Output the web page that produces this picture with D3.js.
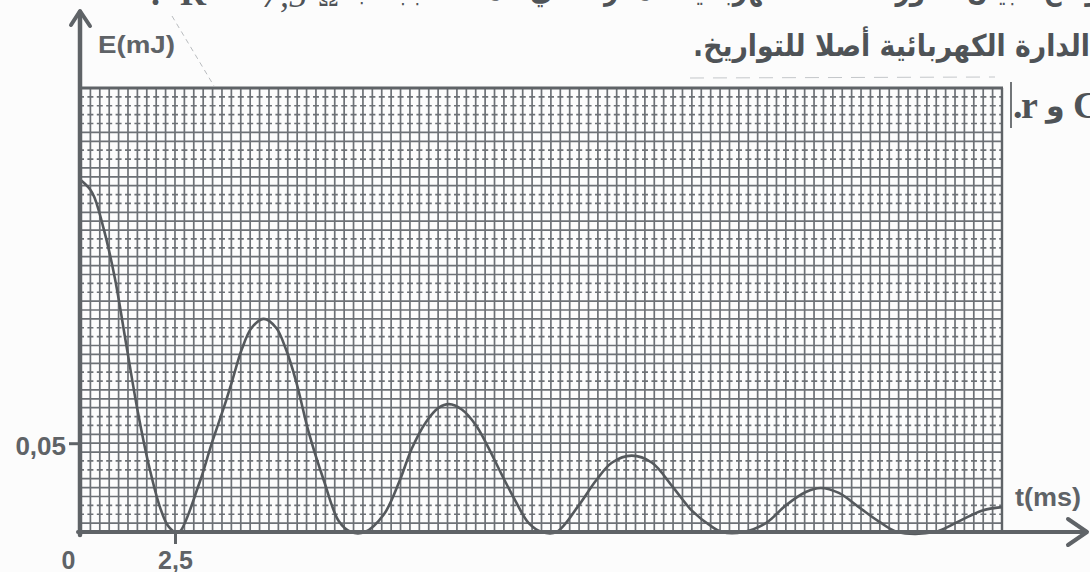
<!DOCTYPE html>
<html>
<head>
<meta charset="utf-8">
<script src="https://cdn.jsdelivr.net/npm/d3@7"></script>
<style>
  html, body { margin: 0; padding: 0; background: #fcfcfc; }
  svg { display: block; }
</style>
</head>
<body>
<svg id="chart" width="1090" height="572"></svg>
<script>
// Capacitor energy E (mJ) versus time t (ms) — damped oscillation
const timeMs = [
  0, 0.3, 0.6, 0.9, 1.2, 1.5, 1.8, 2.1, 2.3, 2.5,
  2.62, 3.14, 3.48, 3.86, 4.02, 4.28, 4.54, 4.86, 5.19, 5.45, 5.72, 6.06, 6.46, 6.86, 7.18,
  7.55, 8.06, 8.46, 8.80, 9.18, 9.52, 9.79, 10.13, 10.51, 10.85, 11.20, 11.57, 11.91, 12.26,
  12.65, 13.24, 13.70, 14.12, 14.65, 15.19, 15.72, 16.25, 16.78, 17.05,
  17.62, 18.22, 18.75, 19.28, 19.68, 20.16, 20.69, 21.22, 21.72,
  22.70, 23.35, 23.96, 24.50
];
const energyMJ = [
  0.198, 0.191, 0.171, 0.143, 0.106, 0.069, 0.038, 0.014, 0.004, 0,
  0, 0.027, 0.050, 0.074, 0.085, 0.103, 0.115, 0.120, 0.115, 0.103, 0.085, 0.056, 0.029, 0.006, 0,
  0, 0.010, 0.028, 0.047, 0.062, 0.070, 0.072, 0.069, 0.060, 0.047, 0.032, 0.017, 0.005, 0,
  0, 0.015, 0.029, 0.039, 0.043, 0.039, 0.026, 0.012, 0.003, 0,
  0, 0.005, 0.015, 0.0225, 0.0248, 0.022, 0.014, 0.006, 0,
  0, 0.006, 0.012, 0.014
];
const yTickValues = [0.05];
const yTickLabels = ["0,05"];
const xTickValues = [0, 2.5];
const xTickLabels = ["0", "2,5"];

const ink = "#5f6367";
const gridInk = "#6d7176";
const svg = d3.select("#chart");

const x = d3.scaleLinear().domain([0, 24.5]).range([81, 1002]);
const y = d3.scaleLinear().domain([0, 0.25]).range([532, 88]);

// ---- graph-paper grid ----
const grid = svg.append("g");
const colSteps = d3.range(1, 98).map(i => i * 0.25);
const rowIdx = d3.range(1, 50);
const dashedRows = new Set([2, 3, 7, 8, 12, 13, 17, 18, 22, 23, 27, 28, 32, 33, 37, 38, 42, 43, 46, 47, 48, 49]);

grid.selectAll("line.col").data(colSteps).join("line")
  .attr("class", "col")
  .attr("x1", d => x(d)).attr("x2", d => x(d))
  .attr("y1", y(0)).attr("y2", y(0.25))
  .attr("stroke", gridInk).attr("stroke-width", 1.7);

grid.selectAll("line.row").data(rowIdx).join("line")
  .attr("class", "row")
  .attr("x1", x(0)).attr("x2", x(24.5))
  .attr("y1", i => y(i * 0.005)).attr("y2", i => y(i * 0.005))
  .attr("stroke", gridInk).attr("stroke-width", 1.7)
  .attr("stroke-dasharray", i => dashedRows.has(i) ? "6,3.4" : null)
  .attr("stroke-dashoffset", 3);

// outer frame of the paper
grid.append("line").attr("x1", x(0)).attr("x2", x(24.5) + 1)
  .attr("y1", y(0.25)).attr("y2", y(0.25))
  .attr("stroke", ink).attr("stroke-width", 3.2);
grid.append("line").attr("x1", x(24.5)).attr("x2", x(24.5))
  .attr("y1", y(0.25)).attr("y2", y(0))
  .attr("stroke", ink).attr("stroke-width", 2.4);

// ---- energy curve ----
const pts = timeMs.map((t, i) => [t, energyMJ[i]]);
svg.append("path")
  .datum(pts)
  .attr("fill", "none")
  .attr("stroke", "#55595d")
  .attr("stroke-width", 2.6)
  .attr("stroke-linejoin", "round")
  .attr("d", d3.line().x(d => x(d[0])).y(d => y(d[1])).curve(d3.curveCatmullRom.alpha(0.5)));

// ---- axes ----
const labelFont = "'Liberation Sans', Arial, sans-serif";

const xAxis = svg.append("g")
  .attr("transform", `translate(0,${y(0)})`)
  .call(d3.axisBottom(x).tickValues(xTickValues).tickSize(12)
    .tickFormat((d, i) => xTickLabels[i]));
xAxis.select(".domain").remove();
xAxis.selectAll(".tick line").attr("stroke", ink).attr("stroke-width", 3)
  .filter(d => d === 0).remove();
xAxis.selectAll(".tick text")
  .attr("y", 37).attr("dy", 0)
  .attr("font-family", labelFont).attr("font-weight", "bold")
  .attr("font-size", 25).attr("fill", ink)
  .attr("dx", d => d === 0 ? -13 : 0);

const yAxis = svg.append("g")
  .attr("transform", `translate(${x(0) - 1},0)`)
  .call(d3.axisLeft(y).tickValues(yTickValues).tickSize(11).tickPadding(3)
    .tickFormat((d, i) => yTickLabels[i]));
yAxis.select(".domain").remove();
yAxis.selectAll(".tick line").attr("stroke", ink).attr("stroke-width", 3);
yAxis.selectAll(".tick text")
  .attr("dy", "0.45em")
  .attr("font-family", labelFont).attr("font-weight", "bold")
  .attr("font-size", 26).attr("fill", ink);

// axis lines with arrow heads
const axisG = svg.append("g").attr("stroke", ink).attr("fill", "none")
  .attr("stroke-linecap", "round").attr("stroke-linejoin", "round");
axisG.append("line").attr("x1", x(0) - 1).attr("x2", x(0) - 1)
  .attr("y1", y(0) + 3).attr("y2", 12).attr("stroke-width", 4.5);
axisG.append("polyline").attr("points", `${x(0) - 10},25 ${x(0) - 1},11 ${x(0) + 9},26`)
  .attr("stroke-width", 4);
axisG.append("line").attr("x1", x(0) - 3).attr("x2", 1086)
  .attr("y1", y(0)).attr("y2", y(0)).attr("stroke-width", 4);
axisG.append("polyline").attr("points", `1068,${y(0) - 13} 1087,${y(0)} 1068,${y(0) + 13}`)
  .attr("stroke-width", 4);

// axis titles
svg.append("text").attr("x", 98).attr("y", 53)
  .attr("font-family", labelFont).attr("font-weight", "bold")
  .attr("font-size", 24).attr("fill", ink)
  .attr("textLength", 77).attr("lengthAdjust", "spacingAndGlyphs")
  .text("E(mJ)");
svg.append("text").attr("x", 1015).attr("y", 506)
  .attr("font-family", labelFont).attr("font-weight", "bold")
  .attr("font-size", 25).attr("fill", ink)
  .attr("textLength", 66).attr("lengthAdjust", "spacingAndGlyphs")
  .text("t(ms)");

// ---- surrounding page text ----
const arFont = "'DejaVu Sans', 'Noto Sans', sans-serif";
const serif = "'Liberation Serif', 'Times New Roman', serif";
const pageInk = "#4f5357";

svg.append("text").attr("x", 1110).attr("y", 0)
  .attr("direction", "rtl").attr("text-anchor", "start")
  .attr("font-family", arFont).attr("font-weight", "bold")
  .attr("font-size", 30).attr("fill", pageInk)
  .attr("textLength", 760).attr("lengthAdjust", "spacingAndGlyphs")
  .text("يوضح البيان تطور الطاقة الكهربائية المخزنة في المكثفة بجانب");
svg.append("text").attr("x", 151).attr("y", 5)
  .attr("font-family", serif).attr("font-weight", "bold")
  .attr("font-size", 36).attr("fill", pageInk).text(".");
svg.append("text").attr("x", 180).attr("y", 5)
  .attr("font-family", serif).attr("font-weight", "bold")
  .attr("font-size", 36).attr("fill", pageInk).text("R");
svg.append("text").attr("x", 232).attr("y", 2)
  .attr("font-family", serif).attr("font-weight", "bold")
  .attr("font-size", 36).attr("fill", pageInk).text("=");
svg.append("text").attr("x", 262).attr("y", 7)
  .attr("font-family", serif).attr("font-style", "italic")
  .attr("font-size", 36).attr("fill", pageInk).text("7,5");
svg.append("text").attr("x", 318).attr("y", 6)
  .attr("font-family", serif).attr("font-size", 28).attr("fill", pageInk).text("Ω");

svg.append("text").attr("x", 1090).attr("y", 56)
  .attr("direction", "rtl").attr("text-anchor", "start")
  .attr("font-family", arFont).attr("font-weight", "bold")
  .attr("font-size", 30).attr("fill", pageInk)
  .attr("textLength", 397).attr("lengthAdjust", "spacingAndGlyphs")
  .text("الدارة الكهربائية أصلا للتواريخ.");

svg.append("text").attr("x", 1013).attr("y", 118)
  .attr("font-family", serif).attr("font-weight", "bold")
  .attr("font-size", 38).attr("fill", pageInk).text(".");
svg.append("text").attr("x", 1021).attr("y", 118)
  .attr("font-family", serif).attr("font-weight", "bold")
  .attr("font-size", 38).attr("fill", pageInk).text("r");
svg.append("text").attr("x", 1046).attr("y", 116)
  .attr("font-family", arFont).attr("font-weight", "bold")
  .attr("font-size", 30).attr("fill", pageInk).text("و");
svg.append("text").attr("x", 1073).attr("y", 118)
  .attr("font-family", serif).attr("font-weight", "bold")
  .attr("font-size", 38).attr("fill", pageInk).text("C");

// table rule beside the paper and faint print marks
svg.append("line").attr("x1", 1011).attr("x2", 1011).attr("y1", 82).attr("y2", 128)
  .attr("stroke", pageInk).attr("stroke-width", 1.6);
svg.append("line").attr("x1", 172).attr("y1", 16).attr("x2", 214).attr("y2", 86)
  .attr("stroke", "#b9bcbf").attr("stroke-width", 1).attr("stroke-dasharray", "5,4");
svg.append("line").attr("x1", 690).attr("y1", 78).attr("x2", 995).attr("y2", 77)
  .attr("stroke", "#c4c7ca").attr("stroke-width", 1).attr("stroke-dasharray", "14,9");
</script>
</body>
</html>
